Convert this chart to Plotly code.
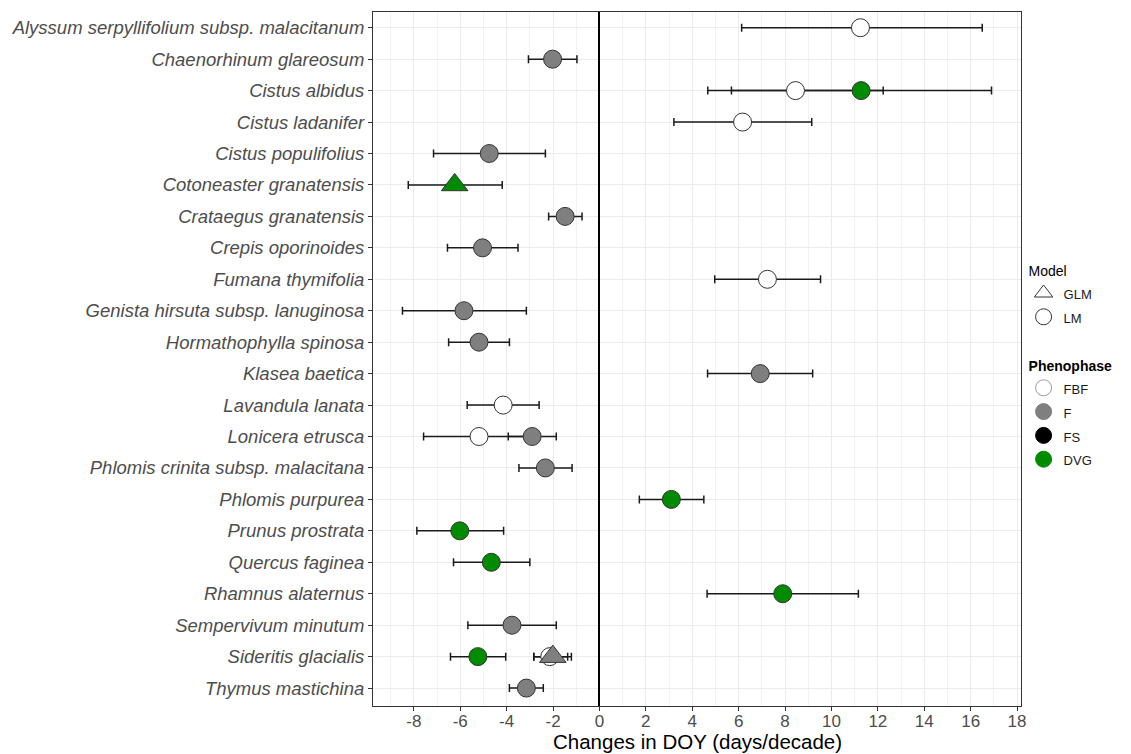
import plotly.graph_objects as go

species = [
    "Alyssum serpyllifolium subsp. malacitanum",
    "Chaenorhinum glareosum",
    "Cistus albidus",
    "Cistus ladanifer",
    "Cistus populifolius",
    "Cotoneaster granatensis",
    "Crataegus granatensis",
    "Crepis oporinoides",
    "Fumana thymifolia",
    "Genista hirsuta subsp. lanuginosa",
    "Hormathophylla spinosa",
    "Klasea baetica",
    "Lavandula lanata",
    "Lonicera etrusca",
    "Phlomis crinita subsp. malacitana",
    "Phlomis purpurea",
    "Prunus prostrata",
    "Quercus faginea",
    "Rhamnus alaternus",
    "Sempervivum minutum",
    "Sideritis glacialis",
    "Thymus mastichina",
]

# one row per estimate
row_species = [
    "Alyssum serpyllifolium subsp. malacitanum",
    "Chaenorhinum glareosum",
    "Cistus albidus",
    "Cistus albidus",
    "Cistus ladanifer",
    "Cistus populifolius",
    "Cotoneaster granatensis",
    "Crataegus granatensis",
    "Crepis oporinoides",
    "Fumana thymifolia",
    "Genista hirsuta subsp. lanuginosa",
    "Hormathophylla spinosa",
    "Klasea baetica",
    "Lavandula lanata",
    "Lonicera etrusca",
    "Lonicera etrusca",
    "Phlomis crinita subsp. malacitana",
    "Phlomis purpurea",
    "Prunus prostrata",
    "Quercus faginea",
    "Rhamnus alaternus",
    "Sempervivum minutum",
    "Sideritis glacialis",
    "Sideritis glacialis",
    "Sideritis glacialis",
    "Thymus mastichina",
]
row_phase = ["FBF", "F", "FBF", "DVG", "FBF", "F", "DVG", "F", "F", "FBF", "F", "F", "F",
             "FBF", "FBF", "F", "F", "DVG", "DVG", "DVG", "DVG", "F", "DVG", "FBF", "F", "F"]
row_model = ["LM", "LM", "LM", "LM", "LM", "LM", "GLM", "LM", "LM", "LM", "LM", "LM", "LM",
             "LM", "LM", "LM", "LM", "LM", "LM", "LM", "LM", "LM", "LM", "LM", "GLM", "LM"]
row_est = [11.25, -2.02, 8.45, 11.28, 6.17, -4.75, -6.24, -1.48, -5.04, 7.24, -5.84, -5.19, 6.93,
           -4.15, -5.19, -2.90, -2.33, 3.10, -6.02, -4.66, 7.90, -3.77, -5.24, -2.14, -2.01, -3.15]
row_lo = [6.13, -3.06, 4.67, 5.69, 3.21, -7.15, -8.24, -2.19, -6.55, 4.97, -8.49, -6.50, 4.66,
          -5.70, -7.58, -3.93, -3.47, 1.72, -7.87, -6.29, 4.64, -5.67, -6.42, -2.83, -2.83, -3.88]
row_hi = [16.50, -0.97, 12.23, 16.90, 9.15, -2.33, -4.19, -0.75, -3.51, 9.53, -3.15, -3.88, 9.19,
          -2.60, -2.78, -1.86, -1.18, 4.50, -4.13, -3.00, 11.16, -1.86, -4.04, -1.37, -1.21, -2.42]

phases = ["FBF", "F", "FS", "DVG"]
phase_fill = {"FBF": "#ffffff", "F": "#7f7f7f", "FS": "#000000", "DVG": "#008b00"}
models = ["GLM", "LM"]
model_symbol = {"GLM": "triangle-up", "LM": "circle"}
model_size = {"GLM": 23, "LM": 18}

x_ticks = list(range(-8, 19, 2))

fig = go.Figure()

# error bars (drawn beneath all points)
fig.add_trace(go.Scatter(
    x=row_est, y=row_species, mode="markers",
    marker=dict(size=1, opacity=0),
    error_x=dict(type="data", symmetric=False,
                 array=[h - e for h, e in zip(row_hi, row_est)],
                 arrayminus=[e - l for e, l in zip(row_est, row_lo)],
                 color="#1a1a1a", thickness=1.5, width=4),
    showlegend=False, hoverinfo="skip"))

# points (LM first so GLM triangles sit on top)
for m in ["LM", "GLM"]:
    for p in phases:
        idx = [i for i in range(len(row_est)) if row_phase[i] == p and row_model[i] == m]
        if not idx:
            continue
        fig.add_trace(go.Scatter(
            x=[row_est[i] for i in idx], y=[row_species[i] for i in idx], mode="markers",
            marker=dict(symbol=model_symbol[m], size=model_size[m], color=phase_fill[p],
                        line=dict(color="#333333", width=1)),
            showlegend=False))


def entry(label):
    return '<span style="font-size:13px">' + label + '</span>'


# legend: Model
for m in models:
    fig.add_trace(go.Scatter(
        x=[None], y=[None], mode="markers", name=entry(m),
        legendgroup="model", legendgrouptitle=dict(text="Model", font=dict(size=14, color="#000")),
        marker=dict(symbol=model_symbol[m], size=18, color="rgba(0,0,0,0)",
                    line=dict(color="#333333", width=1))))
# legend: Phenophase
for p in phases:
    fig.add_trace(go.Scatter(
        x=[None], y=[None], mode="markers", name=entry(p),
        legendgroup="phase",
        legendgrouptitle=dict(text="<b>Phenophase</b>", font=dict(size=14, color="#000")),
        marker=dict(symbol="circle", size=18, color=phase_fill[p],
                    line=dict(color="#999999" if p == "FBF" else phase_fill[p], width=1))))

fig.update_layout(
    width=1123, height=746,
    margin=dict(l=365, r=110, t=4, b=48, autoexpand=False),
    paper_bgcolor="white", plot_bgcolor="white",
    font=dict(family="Liberation Sans, Arial, sans-serif", color="#4d4d4d"),
    legend=dict(x=1.004, y=0.65, xanchor="left", yanchor="top",
                font=dict(size=16, color="#1a1a1a"), tracegroupgap=26,
                bgcolor="rgba(0,0,0,0)", itemsizing="trace"),
    annotations=[dict(text="Changes in DOY (days/decade)", xref="paper", yref="paper",
                      x=0.5, y=0, xanchor="center", yanchor="bottom", yshift=-49,
                      showarrow=False, font=dict(size=20.5, color="#000000"))],
)

fig.update_xaxes(
    range=[-9.76, 18.17], tickmode="array", tickvals=x_ticks, ticktext=[str(v) for v in x_ticks],
    tickfont=dict(size=17, color="#4d4d4d"), ticks="outside", ticklen=4, tickcolor="#333333",
    ticklabelstandoff=-4,
    showgrid=True, gridcolor="#ebebeb", gridwidth=1,
    minor=dict(tickmode="array", tickvals=list(range(-9, 19, 2)), showgrid=True,
               gridcolor="#f2f2f2", gridwidth=1, ticks=""),
    zeroline=True, zerolinecolor="#000000", zerolinewidth=1.5,
    showline=True, mirror=True, linecolor="#333333", linewidth=1,
    automargin=False,
)
fig.update_yaxes(
    type="category", categoryorder="array", categoryarray=species[::-1],
    range=[-0.57, len(species) - 0.5],
    tickfont=dict(size=18.5, color="#4d4d4d", style="italic"),
    ticks="outside", ticklen=4, tickcolor="#333333",
    showgrid=True, gridcolor="#ebebeb", gridwidth=1,
    showline=True, mirror=True, linecolor="#333333", linewidth=1,
    zeroline=False, automargin=False,
)

fig.write_html("out.html")
